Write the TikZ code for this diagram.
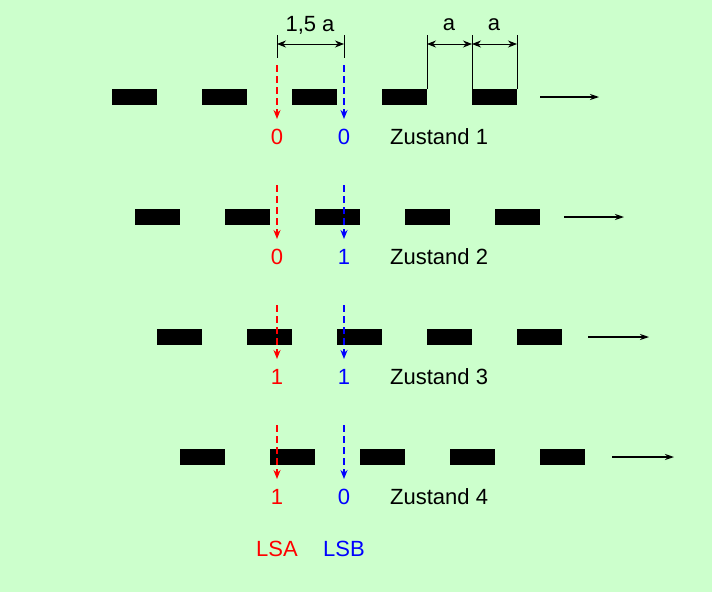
\documentclass[tikz,border=0pt]{standalone}
\usepackage{fontspec}
\setmainfont{Liberation Sans}
\usetikzlibrary{arrows.meta}
\begin{document}
\begin{tikzpicture}[x=1pt,y=-1pt,
 bar/.style={fill=black,draw=none},
 lbl/.style={font=\fontsize{22}{26}\selectfont,inner sep=0pt},
 sens/.style={line width=1.8pt,dash pattern=on 7pt off 4pt,-{Stealth[length=9pt,width=7pt]}},
 dim/.style={line width=0.9pt,{Stealth[length=9pt,width=7pt]}-{Stealth[length=9pt,width=7pt]}},
 mv/.style={line width=1.2pt,-{Stealth[length=9pt,width=6pt]}}]
\fill[fill={rgb,255:red,204;green,255;blue,204}] (0,0) rectangle (712,592);
\useasboundingbox (0,0) rectangle (712,592);
\foreach \r/\cy/\sh/\a/\b in {1/97/0/0/0,2/217/22.5/0/1,3/337/45/1/1,4/457/67.5/1/0}{
  \foreach \k in {0,...,4}{
    \fill[bar] (112+\sh+90*\k,\cy-8) rectangle ++(45,16);
  }
  \coordinate (m\r s) at (540+\sh/22.5*24,\cy);
  \coordinate (m\r e) at (599+\sh/22.5*25,\cy);
  \draw[mv] (m\r s) -- (m\r e);
  \coordinate (ra\r) at (277,\cy-32);
  \coordinate (rb\r) at (277,\cy+22);
  \coordinate (ba\r) at (344,\cy-32);
  \coordinate (bb\r) at (344,\cy+22);
  \draw[sens,red] (ra\r) -- (rb\r);
  \draw[sens,blue] (ba\r) -- (bb\r);
  \node[lbl,red] (da\r) at (277,\cy+40) {\a};
  \node[lbl,blue] (db\r) at (344,\cy+40) {\b};
  \node[lbl,anchor=west] (z\r) at (390,\cy+40) {Zustand \r};
}
\coordinate (e1) at (277,35); \coordinate (e1b) at (277,58);
\coordinate (e2) at (344,35); \coordinate (e2b) at (344,58);
\coordinate (e3) at (427,35); \coordinate (e3b) at (427,89);
\coordinate (e4) at (472,35); \coordinate (e4b) at (472,89);
\coordinate (e5) at (517,35); \coordinate (e5b) at (517,89);
\foreach \i in {1,...,5}{\draw[line width=0.9pt] (e\i) -- (e\i b);}
\draw[dim] (277,44) -- (344,44);
\draw[dim] (427,44) -- (472,44);
\draw[dim] (472,44) -- (517,44);
\node[lbl] (d15) at (310,25) {1,5 a};
\node[lbl] (da) at (449,25) {a};
\node[lbl] (db) at (494,25) {a};
\node[lbl,red] (lsa) at (277,549) {LSA};
\node[lbl,blue] (lsb) at (344,549) {LSB};
\end{tikzpicture}
\end{document}
